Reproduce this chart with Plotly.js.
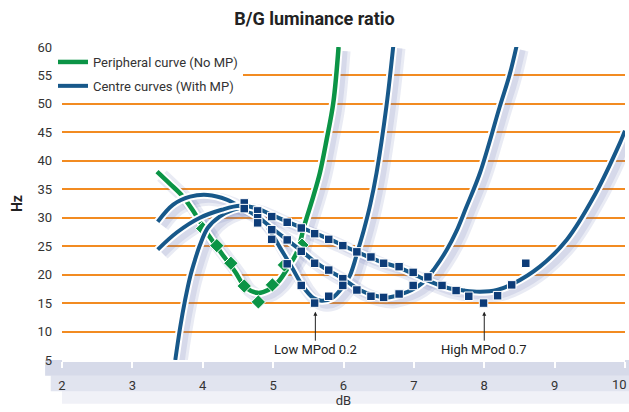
<!DOCTYPE html>
<html><head><meta charset="utf-8">
<script src="https://cdn.plot.ly/plotly-3.0.1.min.js"></script>
<style>html,body{margin:0;padding:0;background:#fff}#chart{width:629px;height:412px}</style>
</head><body><div id="chart"></div>
<script>
// ---- axis ticks ----
const xTicks = [2,3,4,5,6,7,8,9,10];
const xTickText = ['2','3','4','5','6','7','8','9',''];   // "10" is placed as an edge label below
const yTicks = [5,10,15,20,25,30,35,40,45,50,55,60];

// ---- Peripheral (No MP): measured points and fitted curve ----
const periX = [4.00,4.20,4.40,4.59,4.79,4.99,5.16,5.41];
const periY = [28.1,25.1,22.0,18.0,15.2,18.2,21.7,25.2];
const periCurveX = [3.35,3.53,3.72,3.89,4.10,4.27,4.46,4.60,4.78,4.93,5.07,5.21,5.34,5.45,5.57,5.665,5.76,5.855,5.93];
const periCurveY = [38.1,36.0,33.7,30.7,26.6,23.7,20.5,17.9,16.8,17.3,18.7,21.2,24.0,28.9,33.7,37.9,43.7,50.2,60.0];

// ---- Centre, high MPod (0.7) ----
const hiX = [4.59,4.78,4.98,5.20,5.40,5.59,5.79,5.99,6.19,6.39,6.57,6.79,6.99,7.20,7.40,7.60,7.78,7.99,8.19,8.39,8.59];
const hiY = [32.6,31.2,30.2,29.2,28.2,27.2,26.2,25.1,24.0,23.1,22.0,21.4,20.4,19.6,18.1,17.2,16.2,15.0,16.3,18.2,22.0];
const hiCurveX = [3.36,3.63,3.96,4.27,4.53,4.78,4.98,5.24,5.57,5.88,6.19,6.52,6.80,7.13,7.47,7.72,7.94,8.18,8.41,8.79,9.17,9.57,9.93,10.0];
const hiCurveY = [24.4,27.4,30.0,31.4,32.1,31.6,30.5,29.1,27.4,25.8,24.0,22.3,21.2,19.3,17.7,17.2,17.0,17.3,18.4,21.4,26.1,34.0,43.2,45.3];

// ---- Centre, intermediate ----
const midX = [4.59,4.78,4.98,5.20,5.40,5.59,5.79,5.99,6.19,6.39,6.57,6.79,6.99,7.20];
const midY = [31.6,30.0,27.9,26.1,24.1,22.0,20.8,19.3,17.3,16.2,16.0,16.6,18.1,19.6];
const midCurveX = [3.36,3.58,3.82,4.07,4.34,4.57,4.78,4.98,5.20,5.40,5.59,5.79,5.99,6.23,6.45,6.63,6.80,6.97,7.13,7.30,7.47,7.60,7.74,7.94,8.22,8.36,8.46];
const midCurveY = [29.3,32.3,33.7,34.0,33.2,31.7,30.2,28.2,26.1,24.2,22.3,20.7,19.3,17.3,16.3,16.0,16.5,17.3,18.6,21.2,24.4,27.5,31.7,37.9,49.5,55.1,60.2];

// ---- Centre, low MPod (0.2) ----
const loX = [4.78,4.98,5.20,5.40,5.59,5.79,5.99];
const loY = [29.1,26.2,21.9,18.1,15.0,16.2,18.1];
const loCurveX = [3.61,3.68,3.75,3.82,3.89,3.96,4.07,4.24,4.43,4.56,4.74,4.93,5.10,5.27,5.42,5.57,5.69,5.84,5.98,6.09,6.21,6.29,6.38,6.47,6.61,6.71];
const loCurveY = [5.0,10.8,15.6,19.6,22.6,25.2,28.2,30.2,31.4,31.7,30.9,28.2,24.7,21.2,18.0,15.9,15.4,15.9,17.7,19.8,24.5,27.9,32.3,37.9,49.6,60.5];

// ---- annotations ----
const noteText = ['Low MPod 0.2','High MPod 0.7'];
const noteX = [5.6, 8.0];
const noteY = [13.5, 13.5];

const GREEN = '#0b9446', BLUE = '#17588a', NAVY = '#0d3c78';
const SHADOW = 'rgba(100,110,180,0.14)';

const curves = [
  {x: periCurveX, y: periCurveY, c: GREEN, w: 4.5, name: 'Peripheral curve (No MP)', leg: true},
  {x: hiCurveX, y: hiCurveY, c: BLUE, w: 4, name: 'Centre curves (With MP)', leg: true},
  {x: midCurveX, y: midCurveY, c: BLUE, w: 4, name: 'mid', leg: false},
  {x: loCurveX, y: loCurveY, c: BLUE, w: 4, name: 'low', leg: false}
];

const traces = [];
// soft shadows on a shifted overlay axis pair
curves.forEach(cv => {
  [14, 8].forEach(wd => {
    traces.push({x: cv.x, y: cv.y, xaxis: 'x2', yaxis: 'y2', mode: 'lines', hoverinfo: 'skip', showlegend: false,
      line: {shape: 'spline', smoothing: 1, color: SHADOW, width: wd}});
  });
});
function addCurve(cv, i) {
  traces.push({x: cv.x, y: cv.y, xaxis: 'x3', yaxis: 'y3', mode: 'lines', hoverinfo: 'skip', showlegend: false,
    line: {shape: 'spline', smoothing: 1, color: '#ffffff', width: cv.w + 4}});
  traces.push({x: cv.x, y: cv.y, xaxis: 'x3', yaxis: 'y3', mode: 'lines', name: cv.name, showlegend: cv.leg,
    legendgroup: 'g' + i, line: {shape: 'spline', smoothing: 1, color: cv.c, width: cv.w}});
}
addCurve(curves[0], 0);
traces.push({x: periX, y: periY, xaxis: 'x3', yaxis: 'y3', mode: 'markers', showlegend: false,
  marker: {symbol: 'diamond', size: 11, color: GREEN, line: {color: '#ffffff', width: 1}}});
addCurve(curves[3], 3);
addCurve(curves[2], 2);
addCurve(curves[1], 1);
[[hiX, hiY], [midX, midY], [loX, loY]].forEach(p => {
  traces.push({x: p[0], y: p[1], xaxis: 'x3', yaxis: 'y3', mode: 'markers', showlegend: false,
    marker: {symbol: 'square', size: 8.5, color: NAVY, line: {color: '#ffffff', width: 1}}});
});

const pxX = 563 / 8, pxY = 313 / 55;
const sx = 5 / pxX, sy = 4 / pxY;

const annotations = noteText.map((t, i) => ({
  x: noteX[i], y: noteY[i], xref: 'x', yref: 'y', text: t, showarrow: true,
  ax: 0, ay: 38, arrowhead: 2, arrowsize: 0.8, arrowwidth: 1, arrowcolor: '#222222',
  font: {size: 13, color: '#222222'}
}));
// last x tick label, kept inside the page edge
annotations.push({x: xTicks[xTicks.length - 1], xref: 'x', y: -0.077, yref: 'paper', text: String(xTicks[xTicks.length - 1]),
  showarrow: false, xanchor: 'right', yanchor: 'middle', xshift: 4, font: {size: 13, color: '#333333'}});

const layout = {
  width: 629, height: 412,
  margin: {l: 62, r: 4, t: 47, b: 52},
  paper_bgcolor: '#ffffff', plot_bgcolor: '#ffffff',
  font: {family: 'Roboto, sans-serif', size: 13, color: '#333333'},
  title: {text: 'B/G luminance ratio', font: {size: 18, color: '#222222', weight: 700},
    x: 0.5, xref: 'container', xanchor: 'center', y: 0.955, yref: 'container', yanchor: 'middle'},
  showlegend: true,
  legend: {x: -0.016, y: 1.0, xanchor: 'left', yanchor: 'top', bgcolor: '#ffffff',
    traceorder: 'grouped', tracegroupgap: 4, font: {size: 13, color: '#333333'}},
  xaxis: {range: [2, 10], tickvals: xTicks, ticktext: xTickText, showgrid: false, zeroline: false,
    showline: true, linecolor: '#ffffff', linewidth: 2, ticks: 'outside', tickcolor: '#ffffff',
    ticklen: 6, tickwidth: 2, ticklabelstandoff: 6, fixedrange: true,
    title: {text: 'dB', standoff: 4, font: {size: 13, color: '#333333'}}},
  yaxis: {range: [5, 60], tickvals: yTicks, showgrid: true, gridcolor: '#f28b21', gridwidth: 2,
    zeroline: false, showline: false, ticks: '', ticklabelstandoff: 9, fixedrange: true,
    title: {text: 'Hz', standoff: 11, font: {size: 14, color: '#222222', weight: 700}}},
  xaxis2: {overlaying: 'x', range: [2 - sx, 10 - sx], visible: false, fixedrange: true},
  yaxis2: {overlaying: 'y', range: [5 + sy, 60 + sy], visible: false, fixedrange: true},
  xaxis3: {overlaying: 'x', range: [2, 10], visible: false, fixedrange: true},
  yaxis3: {overlaying: 'y', range: [5, 60], visible: false, fixedrange: true},
  shapes: [
    {type: 'rect', xref: 'paper', yref: 'paper', x0: -0.03, x1: 1.01, y0: -0.05, y1: 0, layer: 'below',
      fillcolor: 'rgba(200,206,226,0.75)', line: {width: 0}},
    {type: 'rect', xref: 'paper', yref: 'paper', x0: -0.02, x1: 1.01, y0: -0.1, y1: -0.05, layer: 'below',
      fillcolor: 'rgba(200,206,226,0.55)', line: {width: 0}},
    {type: 'rect', xref: 'paper', yref: 'paper', x0: 0.0, x1: 1.01, y0: -0.14, y1: -0.1, layer: 'below',
      fillcolor: 'rgba(200,206,226,0.28)', line: {width: 0}}
  ],
  annotations: annotations
};

Plotly.newPlot('chart', traces, layout, {displayModeBar: false, staticPlot: true});
</script>
</body></html>
